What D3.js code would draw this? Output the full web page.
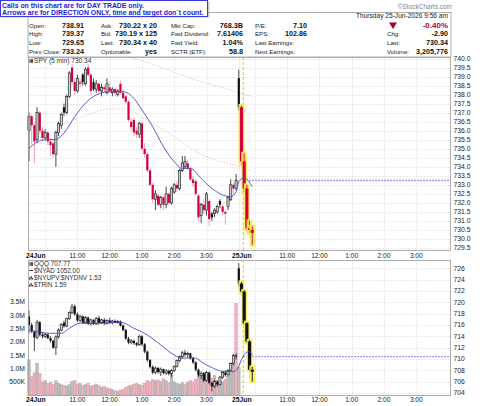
<!DOCTYPE html>
<html>
<head>
<meta charset="utf-8">
<script src="https://cdn.jsdelivr.net/npm/d3@7"></script>
<style>
body { margin: 0; background: #fff; }
svg text { font-family: "Liberation Sans", Arial, sans-serif; }
</style>
</head>
<body>
<script>
// ---- data (bar index 0 = 24Jun 9:30, 78 = 25Jun 9:30, 5 min bars) ----
var spyOpen  = [736.0,736.8,736.3,735.5,737.0,736.0,735.6,735.9,735.4,735.3,734.7,735.9,736.3,737.3,737.0,737.9,739.5,738.7,738.2,738.6,739.1,738.6,739.5,739.1,738.7,738.3,738.6,738.2,738.4,738.1,738.4,738.1,738.3,738.0,738.6,738.1,737.9,737.6,736.5,736.6,736.0,735.8,736.4,735.0,734.7,733.8,733.0,732.2,732.4,731.9,732.3,731.9,732.5,732.0,732.6,733.0,732.8,733.8,734.0,734.2,733.9,733.3,733.2,732.4,731.3,731.9,731.6,732.1,731.4,731.4,731.5,732.1,731.8,731.5,731.8,732.2,733.0,732.8,738.91,737.3,734.3,732.8,730.6,730.5];
var spyHigh  = [737.0,736.9,736.4,737.3,737.1,736.2,736.1,736.0,735.6,735.4,736.0,736.5,737.0,737.5,738.0,739.3,739.7,738.9,739.1,738.9,739.2,739.5,739.7,739.2,738.9,738.8,738.7,738.6,738.5,738.9,738.7,738.4,738.4,738.3,738.8,738.3,738.0,737.7,736.7,736.7,736.2,736.5,736.5,735.3,734.8,733.9,733.1,732.7,732.5,732.4,732.4,732.9,732.6,732.9,733.1,733.2,733.9,734.6,734.6,734.4,734.0,733.5,733.3,732.5,732.0,732.2,732.6,732.2,731.5,731.7,731.9,732.2,731.9,731.6,732.4,733.3,733.1,733.6,739.37,737.4,734.75,733.0,731.0,730.7];
var spyLow   = [734.3,735.2,734.2,735.3,735.8,735.4,735.5,735.2,734.6,734.5,734.0,735.7,736.1,736.8,736.9,737.8,738.5,738.0,738.1,738.4,738.5,738.5,739.0,738.0,738.2,738.1,738.0,737.9,738.1,738.0,738.1,737.9,737.9,737.9,738.0,737.7,737.5,736.5,736.0,735.7,735.6,735.6,734.9,734.5,733.7,732.9,732.0,731.6,731.8,731.7,731.6,731.7,731.9,731.9,732.5,732.6,732.7,733.7,733.9,733.8,733.2,732.9,732.4,731.0,730.9,731.4,731.3,730.7,731.0,731.2,731.4,731.7,731.3,730.8,731.6,732.1,732.5,732.7,737.1,734.1,732.6,730.5,730.3,729.65];
var spyClose = [736.8,736.3,735.4,737.0,736.0,735.6,735.9,735.4,735.2,734.7,735.9,736.4,736.9,737.0,737.9,739.2,738.7,738.2,738.9,738.7,738.7,739.4,739.1,738.2,738.3,738.6,738.2,738.4,738.3,738.6,738.2,738.3,738.1,738.2,738.1,737.8,737.6,736.6,736.2,735.9,735.8,736.4,735.0,734.7,733.8,733.0,732.2,732.5,731.9,732.3,731.9,732.5,732.0,732.8,733.0,732.8,733.8,734.2,734.3,733.9,733.3,733.1,732.5,731.2,731.9,731.6,732.5,731.1,731.2,731.6,731.8,731.9,731.5,731.4,732.3,733.0,732.8,733.24,737.3,734.3,732.8,730.6,730.5,730.34];

var qqqOpen  = [717.5,716.0,714.8,713.8,716.5,714.3,714.0,714.3,713.7,713.2,712.0,713.9,715.1,716.4,715.8,717.1,718.2,719.3,717.9,716.8,717.5,716.4,717.3,716.2,716.9,716.2,717.2,716.4,716.9,716.3,716.8,716.4,716.7,716.5,716.6,715.9,715.1,713.6,712.9,713.2,712.8,712.5,714.0,712.6,711.3,709.8,708.6,707.6,708.4,707.7,708.2,707.5,707.9,707.4,708.0,708.7,709.7,710.4,711.1,710.8,711.0,710.1,709.4,708.1,707.1,707.5,706.2,707.6,705.8,705.2,706.0,705.5,706.8,707.6,707.2,708.0,709.2,710.6,726.0,723.3,721.9,716.3,713.1,708.1];
var qqqHigh  = [718.6,716.4,715.0,716.9,716.7,714.8,714.6,714.5,714.0,713.4,714.2,715.4,716.3,716.8,717.3,718.4,719.7,719.6,718.2,717.8,717.7,717.6,717.5,717.1,717.0,717.4,717.6,717.1,717.2,717.0,717.3,716.9,717.0,716.9,716.8,716.1,715.3,713.9,713.5,713.4,713.0,714.3,714.2,712.8,711.5,710.0,708.9,708.7,708.6,708.5,708.3,708.2,708.1,708.2,708.9,709.9,710.6,711.4,711.6,711.3,711.1,710.3,709.6,708.3,707.8,707.7,707.9,707.8,706.0,706.3,706.2,707.0,707.9,708.0,708.2,709.4,710.9,711.0,726.9,723.6,722.1,716.5,713.3,708.6];
var qqqLow   = [714.5,714.6,711.4,713.5,714.0,713.6,713.7,713.5,712.9,711.8,710.7,713.6,714.9,715.5,715.6,716.9,717.9,717.6,716.5,716.5,716.2,716.2,716.0,715.9,716.0,716.0,716.1,716.2,716.0,716.1,716.2,716.1,716.3,716.2,715.7,714.9,713.4,712.6,712.6,712.5,712.2,712.3,712.3,711.0,709.5,708.3,707.3,707.3,707.4,707.0,707.3,707.2,707.1,706.8,707.7,708.5,709.4,710.1,710.4,710.2,709.9,709.1,707.8,706.8,706.5,705.9,706.0,705.5,704.3,704.9,705.1,705.3,706.5,706.9,706.9,707.8,708.9,709.9,722.8,721.6,716.0,712.8,707.9,706.0];
var qqqClose = [716.0,714.8,713.8,716.5,714.3,714.0,714.3,713.7,713.2,712.0,713.9,715.1,716.1,715.8,717.1,718.2,719.2,717.9,716.8,717.5,716.4,717.3,716.2,716.9,716.2,717.2,716.4,716.9,716.3,716.8,716.4,716.7,716.5,716.6,715.9,715.1,713.6,712.9,713.2,712.8,712.5,714.0,712.6,711.3,709.8,708.6,707.6,708.4,707.7,708.2,707.5,707.9,707.4,708.0,708.7,709.7,710.4,711.1,710.8,711.0,710.1,709.4,708.1,707.1,707.5,706.2,707.6,705.8,705.2,706.0,705.5,706.8,707.6,707.2,708.0,709.2,710.6,710.4,723.3,721.9,716.3,713.1,708.1,707.77];

// volume, millions (left axis of the lower panel)
var volume = [1.33,0.70,0.85,1.20,0.82,0.50,0.55,0.45,0.50,0.42,0.55,0.45,0.40,0.38,0.35,0.40,0.52,0.55,0.42,0.45,0.38,0.40,0.45,0.35,0.38,0.42,0.36,0.30,0.33,0.28,0.25,0.22,0.18,0.15,0.20,0.22,0.30,0.35,0.38,0.42,0.45,0.40,0.38,0.45,0.55,0.52,0.60,0.55,0.58,0.52,0.62,0.55,0.48,0.78,0.50,0.45,0.40,0.48,0.42,0.50,0.55,0.50,0.60,0.70,0.75,0.60,0.72,0.80,0.65,0.75,0.55,0.48,0.52,0.60,0.70,0.85,1.25,3.45,1.05];

// moving averages sampled along the bars
var spyMaIdx = [0,5,10,13,17,21,25,30,35,39,42,46,50,54,57,60,64,68,75,77,78,80,83];
var spyMaVal = [735.02,735.48,735.52,735.87,736.77,737.53,737.98,738.16,738.16,737.79,737.15,736.22,735.11,734.28,733.91,733.91,733.36,732.80,732.34,732.62,733.17,733.39,732.89];
var spyMa2Idx = [17,23,30,36,42,50,56,62,70,78,80,83];
var spyMa2Val = [736.6,736.95,737.2,737.2,736.75,736.05,735.45,734.85,734.35,734.0,733.85,733.8];
var spyMa3Idx = [36,50,62,75,78,83];
var spyMa3Val = [740.15,739.46,738.81,738.25,738.1,737.9];
var qqqMaIdx = [0,8,12,15,19,26,34,39,44,49,54,57,61,66,73,76,78,79,81,82,83];
var qqqMaVal = [715.12,714.53,714.53,715.42,716.3,716.3,716.48,715.42,714.24,712.47,710.7,710.13,710.24,708.95,707.76,707.76,708.7,709.9,711.2,711.3,710.6];

var spyPrevClose = 733.24, qqqPrevClose = 710.4;
var spyTicks = d3.range(729.5, 740.01, 0.5);
var qqqTicks = d3.range(704, 726.01, 2);
var volTicks = [0.5, 1.0, 1.5, 2.0, 2.5, 3.0, 3.5];
var volTickLabels = ["500K", "1.0M", "1.5M", "2.0M", "2.5M", "3.0M", "3.5M"];
var hourIdx = [6, 18, 30, 42, 54, 66, 84, 96, 108, 120, 132, 144];
var hourLabels = ["", "11:00", "12:00", "1:00", "2:00", "3:00", "", "11:00", "12:00", "1:00", "2:00", "3:00"];
var dayIdx = [0, 78];
var dayLabels = ["24Jun", "25Jun"];

var infoLeft = [["Open:", "738.91"], ["High:", "739.37"], ["Low:", "729.65"], ["Prev Close:", "733.24"]];
var infoMid = [["Ask:", "730.22 x 20"], ["Bid:", "730.19 x 125"], ["Last:", "730.34 x 40"], ["Optionable:", "yes"]];
var infoMid2 = [["Mkt Cap:", "768.3B"], ["Fwd Dividend:", "7.61406"], ["Fwd Yield:", "1.04%"], ["SCTR (ETF):", "58.8"]];
var infoRight = [["P/E:", "7.10"], ["EPS:", "102.86"], ["Last Earnings:", ""], ["Next Earnings:", ""]];
var infoFar = [["", "-0.40%"], ["Chg:", "-2.90"], ["Last:", "730.34"], ["Volume:", "3,205,776"]];

// ---- layout ----
var W = 480, H = 406;
var left = 28, right = 451;
var top1 = 57, bot1 = 251, top2 = 260, bot2 = 396;

var svg = d3.select("body").append("svg")
    .attr("width", W)
    .attr("height", H);

var x = d3.scaleLinear().domain([-0.37, 156.9]).range([left, right]);
var ySpy = d3.scaleLinear().domain([729.5, 740]).range([248, 58.5]);
var yQqq = d3.scaleLinear().domain([704, 726]).range([393, 268.3]);
var yVol = d3.scaleLinear().domain([0, 3.5]).range([395.3, 302]);

var RED = "#d8003c", PINK = "#ef9aae", GRID = "#d8d8d8";

// ---- header ----
var hdr = svg.append("g");
hdr.append("rect").attr("x", left).attr("y", 12.5).attr("width", right - left).attr("height", top1 - 12.5)
    .attr("fill", "#fff").attr("stroke", "#999").attr("stroke-width", 0.8);
hdr.append("text").attr("x", 452).attr("y", 8.5).attr("text-anchor", "end")
    .attr("font-size", "6.5px").attr("fill", "#888").text("\u00a9StockCharts.com");
hdr.append("text").attr("x", 448).attr("y", 18).attr("text-anchor", "end")
    .attr("font-size", "6.6px").attr("fill", "#222").text("Thursday  25-Jun-2026  9:56 am");

var rowY = [27.5, 36.3, 45.2, 54.1];
function infoCol(rows, lx, vx) {
    rows.forEach(function (r, i) {
        hdr.append("text").attr("x", lx).attr("y", rowY[i]).attr("font-size", "6.1px")
            .attr("fill", "#222").text(r[0]);
        hdr.append("text").attr("x", vx).attr("y", rowY[i]).attr("text-anchor", "end")
            .attr("font-size", "7.2px").attr("font-weight", "bold").attr("fill", "#111").text(r[1]);
    });
}
infoCol(infoLeft, 29, 84);
infoCol(infoMid, 101, 157);
infoCol(infoMid2, 171, 243);
infoCol(infoRight, 255, 307);
infoCol(infoFar, 387, 448);
hdr.selectAll("text").filter(function () { return this.textContent == "-0.40%"; })
    .attr("fill", "#b3002d").attr("font-size", "8px");
hdr.append("path").attr("d", "M389,22.5 L397,22.5 L393,29 Z").attr("fill", "#a3002a");

// blue note box
svg.append("rect").attr("x", 1.5).attr("y", 1.5).attr("width", 208).attr("height", 16)
    .attr("fill", "#999").attr("opacity", 0.5);
svg.append("rect").attr("x", 0.5).attr("y", 0.5).attr("width", 207).attr("height", 16)
    .attr("fill", "#fff").attr("stroke", "#3a3ad8").attr("stroke-width", 1);
svg.append("text").attr("x", 2).attr("y", 8).attr("font-size", "6.9px").attr("font-weight", "bold")
    .attr("fill", "#1c1ce0").text("Calls on this chart are for DAY TRADE only.");
svg.append("text").attr("x", 2).attr("y", 15.2).attr("font-size", "6.9px").attr("font-weight", "bold")
    .attr("fill", "#1c1ce0").text("Arrows are for DIRECTION ONLY, time and target don`t count.");

// ---- panels ----
function panelFrame(t, b, ticks, y, fmt) {
    var g = svg.append("g");
    g.append("rect").attr("x", left).attr("y", t).attr("width", right - left).attr("height", b - t)
        .attr("fill", "#fff");
    g.selectAll(".hg").data(ticks).enter().append("line")
        .attr("x1", left).attr("x2", right)
        .attr("y1", function (d) { return Math.round(y(d)) + 0.5; })
        .attr("y2", function (d) { return Math.round(y(d)) + 0.5; })
        .attr("stroke", GRID).attr("stroke-width", 0.7).attr("stroke-dasharray", "1.5,1.5");
    g.selectAll(".vg").data(hourIdx.concat([78])).enter().append("line")
        .attr("x1", function (d) { return Math.round(x(d)) + 0.5; })
        .attr("x2", function (d) { return Math.round(x(d)) + 0.5; })
        .attr("y1", t).attr("y2", b)
        .attr("stroke", GRID).attr("stroke-width", 0.7).attr("stroke-dasharray", "1.5,1.5");
    g.selectAll(".yl").data(ticks).enter().append("text")
        .attr("x", right + 2.5).attr("y", function (d) { return y(d) + 2.4; })
        .attr("font-size", "6.8px").attr("fill", "#222").text(fmt);
    return g;
}
panelFrame(top1, bot1, spyTicks, ySpy, d3.format(".1f"));
panelFrame(top2, bot2, qqqTicks, yQqq, d3.format("d"));

// x labels
function xLabels(yy) {
    var g = svg.append("g");
    g.selectAll(".hl").data(hourIdx.filter(function (d, i) { return hourLabels[i]; })).enter().append("text")
        .attr("x", function (d) { return x(d); }).attr("y", yy).attr("text-anchor", "middle")
        .attr("font-size", "6.6px").attr("fill", "#222")
        .text(function (d) { return hourLabels[hourIdx.indexOf(d)]; });
    g.append("text").attr("x", left - 2).attr("y", yy).attr("font-size", "6.8px").attr("font-weight", "bold")
        .attr("fill", "#111").text(dayLabels[0]);
    g.append("text").attr("x", x(dayIdx[1]) + 3).attr("y", yy).attr("text-anchor", "middle")
        .attr("font-size", "6.8px").attr("font-weight", "bold").attr("fill", "#111").text(dayLabels[1]);
}
xLabels(257.8);
xLabels(402);

// volume axis labels
svg.selectAll(".vl").data(volTicks).enter().append("text")
    .attr("x", 25).attr("y", function (d) { return yVol(d) + 2.4; }).attr("text-anchor", "end")
    .attr("font-size", "6.8px").attr("fill", "#222")
    .text(function (d, i) { return volTickLabels[i]; });

// volume bars
var bw = x(1) - x(0);
svg.append("g").selectAll("rect").data(volume).enter().append("rect")
    .attr("x", function (d, i) { return x(i) - bw / 2; })
    .attr("y", function (d) { return yVol(d); })
    .attr("width", bw)
    .attr("height", function (d) { return yVol(0) - yVol(d); })
    .attr("fill", function (d, i) { return i > 0 && qqqClose[i] < qqqClose[i - 1] ? "#edb3bd" : "#bcbcbc"; })
    .attr("stroke", function (d, i) { return i > 0 && qqqClose[i] < qqqClose[i - 1] ? "#dc8f9d" : "#a4a4a4"; })
    .attr("stroke-width", 0.4);

// moving averages
function maLine(idx, val, y, color, width, dash, t, b) {
    var clipId = "c" + Math.round(t);
    if (svg.select("#" + clipId).empty()) {
        svg.append("clipPath").attr("id", clipId).append("rect")
            .attr("x", left).attr("y", t).attr("width", right - left).attr("height", b - t);
    }
    svg.append("path")
        .datum(idx.map(function (d, i) { return [d, val[i]]; }))
        .attr("clip-path", "url(#" + clipId + ")")
        .attr("fill", "none").attr("stroke", color).attr("stroke-width", width)
        .attr("stroke-dasharray", dash)
        .attr("d", d3.line().curve(d3.curveMonotoneX)
            .x(function (d) { return x(d[0]); })
            .y(function (d) { return y(d[1]); }));
}
maLine(spyMa3Idx, spyMa3Val, ySpy, "#c8c8c8", 0.8, "1.5,1.5", top1, bot1);
maLine(spyMa2Idx, spyMa2Val, ySpy, "#f0b4c0", 0.8, "1.5,1.5", top1, bot1);

// day separator and previous close lines
var sepX = x(dayIdx[1]) + 4.5;
[[top1, bot1], [top2, bot2]].forEach(function (p) {
    svg.append("line").attr("x1", sepX).attr("x2", sepX).attr("y1", p[0]).attr("y2", p[1])
        .attr("stroke", "#f5c400").attr("stroke-width", 1).attr("stroke-dasharray", "3,2");
});
svg.append("line").attr("x1", sepX).attr("x2", right).attr("y1", ySpy(spyPrevClose)).attr("y2", ySpy(spyPrevClose))
    .attr("stroke", "#7b7bf0").attr("stroke-width", 1.3).attr("stroke-dasharray", "1.5,1.5");
svg.append("line").attr("x1", sepX).attr("x2", right).attr("y1", yQqq(qqqPrevClose)).attr("y2", yQqq(qqqPrevClose))
    .attr("stroke", "#7b7bf0").attr("stroke-width", 1.3).attr("stroke-dasharray", "1.5,1.5");

// candles
function candles(O, Hh, L, C, y, useRed) {
    var g = svg.append("g");
    O.forEach(function (o, i) {
        var c = C[i], cx = x(i);
        var down = i > 0 && c < C[i - 1];
        var col = useRed && down ? RED : "#111";
        var wickCol = useRed && down ? PINK : "#333";
        var hollow = c > o;
        var today = i > dayIdx[1];
        var w = today ? 3.2 : 2.2;
        if (today) {
            g.append("rect").attr("x", cx - 3).attr("y", y(Hh[i]) - 1.5).attr("width", 6)
                .attr("height", y(L[i]) - y(Hh[i]) + 3).attr("fill", "#f6ee5a").attr("opacity", 0.9);
        }
        g.append("line").attr("x1", cx).attr("x2", cx).attr("y1", y(Hh[i])).attr("y2", y(L[i]))
            .attr("stroke", today ? col : wickCol).attr("stroke-width", 0.9);
        var yt = y(Math.max(o, c)), yb = y(Math.min(o, c));
        g.append("rect").attr("x", cx - w / 2).attr("y", yt).attr("width", w)
            .attr("height", Math.max(1, yb - yt))
            .attr("fill", hollow ? (useRed && down ? "#f6c6d0" : "#cfcfcf") : col)
            .attr("stroke", hollow ? col : "none").attr("stroke-width", 0.6);
    });
}
candles(spyOpen, spyHigh, spyLow, spyClose, ySpy, true);
candles(qqqOpen, qqqHigh, qqqLow, qqqClose, yQqq, false);

maLine(spyMaIdx, spyMaVal, ySpy, "#4a4ac8", 0.9, null, top1, bot1);
maLine(qqqMaIdx, qqqMaVal, yQqq, "#4a4ac8", 0.9, null, top2, bot2);

// panel borders
[[top1, bot1], [top2, bot2]].forEach(function (p) {
    svg.append("rect").attr("x", left + 0.5).attr("y", p[0] + 0.5).attr("width", right - left - 1)
        .attr("height", p[1] - p[0] - 1).attr("fill", "none").attr("stroke", "#999").attr("stroke-width", 0.8);
});

// legends
function icon(g, xx, yy) {
    g.append("line").attr("x1", xx + 1).attr("x2", xx + 1).attr("y1", yy - 3.5).attr("y2", yy + 0.5).attr("stroke", "#222");
    g.append("rect").attr("x", xx + 2.2).attr("y", yy - 3).attr("width", 1.6).attr("height", 3).attr("fill", "#222");
    g.append("line").attr("x1", xx + 3).attr("x2", xx + 3).attr("y1", yy - 4).attr("y2", yy + 1).attr("stroke", "#222").attr("stroke-width", 0.5);
}
function histIcon(g, xx, yy) {
    [2, 3.5, 1.5].forEach(function (h, k) {
        g.append("rect").attr("x", xx + k * 1.5).attr("y", yy - h).attr("width", 1.2).attr("height", h).attr("fill", "#333");
    });
}
var lg = svg.append("g");
icon(lg, 29, 62.5);
lg.append("text").attr("x", 34).attr("y", 62.5).attr("font-size", "6.6px").attr("fill", "#333")
    .text("SPY (5 min) 730.34");
var lg2 = svg.append("g");
var legendLines = ["QQQ 707.77", "$NYAD 1052.00", "$NYUPV:$NYDNV 1.53", "$TRIN 1.59"];
legendLines.forEach(function (t, k) {
    var yy = 265.5 + k * 7;
    if (k == 0) icon(lg2, 29, yy);
    else if (k == 1) lg2.append("line").attr("x1", 29.5).attr("x2", 33).attr("y1", yy - 2).attr("y2", yy - 2).attr("stroke", "#222");
    else histIcon(lg2, 29, yy);
    lg2.append("text").attr("x", 34).attr("y", yy).attr("font-size", "6.4px").attr("fill", "#333").text(t);
});
</script>
</body>
</html>
